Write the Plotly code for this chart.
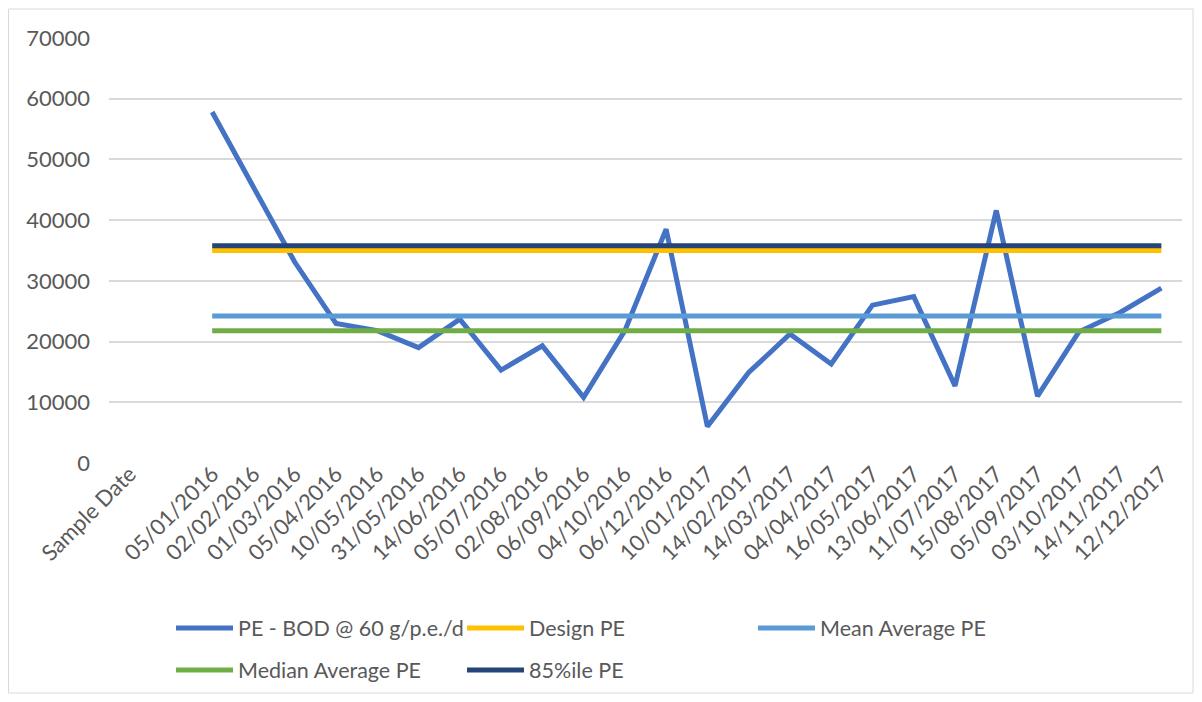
import plotly.graph_objects as go

# ---- data ----
categories = ["Sample Date", " ",
              "05/01/2016", "02/02/2016", "01/03/2016", "05/04/2016", "10/05/2016",
              "31/05/2016", "14/06/2016", "05/07/2016", "02/08/2016", "06/09/2016",
              "04/10/2016", "06/12/2016", "10/01/2017", "14/02/2017", "14/03/2017",
              "04/04/2017", "16/05/2017", "13/06/2017", "11/07/2017", "15/08/2017",
              "05/09/2017", "03/10/2017", "14/11/2017", "12/12/2017"]
sample_dates = categories[2:]
pe_bod = [57800, 45400, 33100, 23000, 21800, 19000, 23700, 15300, 19300, 10800,
          21800, 38500, 6000, 14900, 21250, 16300, 26000, 27400, 12700, 41600,
          11000, 21600, 24800, 28800]
design_pe = [35000] * len(sample_dates)
mean_pe = [24200] * len(sample_dates)
median_pe = [21800] * len(sample_dates)
pct85_pe = [35800] * len(sample_dates)
y_ticks = [0, 10000, 20000, 30000, 40000, 50000, 60000, 70000]
y_tick_text = [str(v) for v in y_ticks]

FONT = "Lato"
TXT = "#595959"
FS = 22

fig = go.Figure()
series = [
    ("PE - BOD @ 60 g/p.e./d", pe_bod, "#4472C4", "legend"),
    ("Design PE", design_pe, "#FFC000", "legend"),
    ("Mean Average PE", mean_pe, "#5B9BD5", "legend"),
    ("Median Average PE", median_pe, "#70AD47", "legend2"),
    ("85%ile PE", pct85_pe, "#264478", "legend2"),
]
for name, vals, col, lg in series:
    fig.add_trace(go.Scatter(x=sample_dates, y=vals, name=name, mode="lines",
                             line=dict(color=col, width=5), legend=lg))

# page is offset by the 8px body margin -> work in page pixels, convert to figure
OFF = 8
W, H = 1202 - 2 * OFF, 702 - 2 * OFF
PL, PR, PT, PB = 109, 1182, 38, 463  # plot area in page pixels
L, T = PL - OFF, PT - OFF
R, B = W - (PR - OFF), H - (PB - OFF)
pw, ph = PR - PL, PB - PT

def px_x(p):
    return (p - PL) / pw

def px_y(p):
    return (PB - p) / ph

legend_common = dict(orientation="h", xanchor="left", yanchor="middle",
                     entrywidth=219, entrywidthmode="pixels", itemwidth=57,
                     font=dict(family=FONT, size=21.5, color=TXT),
                     bgcolor="rgba(0,0,0,0)")

fig.update_layout(
    width=W, height=H,
    margin=dict(l=L, r=R, t=T, b=B, autoexpand=False),
    paper_bgcolor="white", plot_bgcolor="white",
    font=dict(family=FONT, size=FS, color=TXT),
    xaxis=dict(type="category", categoryorder="array", categoryarray=categories,
               tickvals=categories, ticktext=categories,
               range=[-0.5, len(categories) - 0.5],
               tickangle=-45, showgrid=False, showline=False, zeroline=False,
               ticks="", ticklabelstandoff=-7,
               tickfont=dict(family=FONT, size=FS, color=TXT)),
    yaxis=dict(range=[0, 70000], tickvals=y_ticks, ticktext=y_tick_text,
               showgrid=True, gridcolor="#D9D9D9",
               gridwidth=1.5, zeroline=False, showline=False, ticks="",
               ticklabelstandoff=18,
               tickfont=dict(family=FONT, size=FS, color=TXT)),
    legend=dict(x=px_x(171), y=px_y(628), **legend_common),
    legend2=dict(x=px_x(171), y=px_y(670), **legend_common),
    showlegend=True,
    shapes=[dict(type="rect", xref="paper", yref="paper",
                 x0=px_x(8.5), x1=px_x(1193), y0=px_y(693), y1=px_y(9),
                 line=dict(color="#D9D9D9", width=1), fillcolor="rgba(0,0,0,0)", layer="below")],
)

fig.write_html("out.html")
